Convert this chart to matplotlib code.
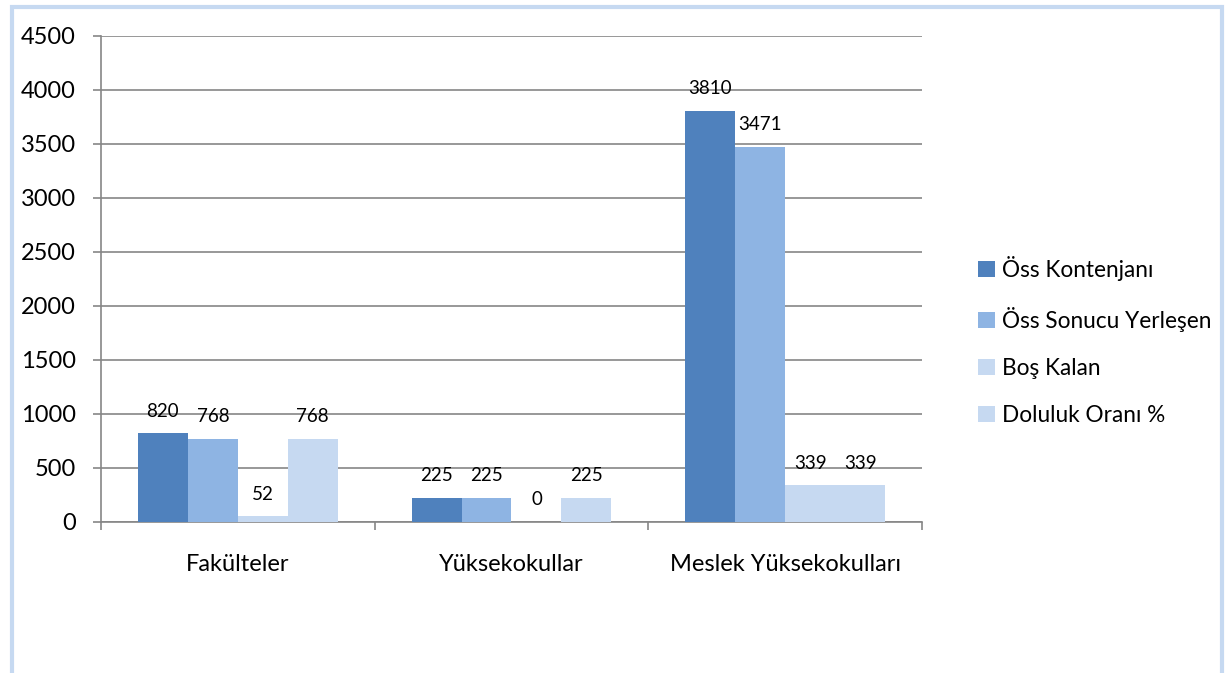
import matplotlib
matplotlib.use("Agg")
import matplotlib.pyplot as plt
import numpy as np
from matplotlib.patches import Rectangle

categories = ["Fakülteler", "Yüksekokullar", "Meslek Yüksekokulları"]
series_names = ["Öss Kontenjanı", "Öss Sonucu Yerleşen", "Boş Kalan", "Doluluk Oranı %"]
kontenjan = [820, 225, 3810]
yerlesen = [768, 225, 3471]
bos_kalan = [52, 0, 339]
doluluk = [768, 225, 339]
colors = ["#4F81BD", "#8EB4E3", "#C6D9F1", "#C6D9F1"]

plt.rcParams['font.family'] = ['Lato', 'DejaVu Sans']

fig = plt.figure(figsize=(12.31, 6.73), dpi=100)
ax = fig.add_axes([101/1231, 1-522/673, (922-101)/1231, (522-36)/673])

x = np.arange(len(categories))
w = 50/274
all_series = [kontenjan, yerlesen, bos_kalan, doluluk]
for i, (vals, name, c) in enumerate(zip(all_series, series_names, colors)):
    pos = x + (i - 1.5) * w
    ax.bar(pos, vals, width=w, color=c, label=name, zorder=3)
    for xp, v in zip(pos, vals):
        ax.annotate(str(v), (xp, v), xytext=(0, 16), textcoords="offset points",
                    ha="center", va="center", fontsize=13.5, color="black", zorder=4)

ax.set_xlim(-0.5, 2.5)
ax.set_ylim(0, 4500)
ax.set_yticks(np.arange(0, 4501, 500))
ax.yaxis.grid(True, color="#868686", linewidth=1.2, zorder=0)
ax.set_axisbelow(True)
ax.set_xticks([-0.5, 0.5, 1.5, 2.5])
ax.set_xticklabels([])
ax.set_xticks(x, minor=True)
ax.set_xticklabels(categories, minor=True)
ax.tick_params(axis="x", which="minor", length=0, pad=23, labelsize=17)
ax.tick_params(axis="x", which="major", length=6, color="#868686", width=1.2, direction="out")
ax.tick_params(axis="y", length=6, color="#868686", width=1.2, pad=12, labelsize=17)
for s in ["top", "right"]:
    ax.spines[s].set_visible(False)
for s in ["left", "bottom"]:
    ax.spines[s].set_color("#868686")
    ax.spines[s].set_linewidth(1.2)

handles, labels = ax.get_legend_handles_labels()
fig.legend(handles, labels, loc="center left", bbox_to_anchor=(969/1231, 1-341/673),
           frameon=False, fontsize=16.3, handlelength=0.75, handleheight=0.75,
           handletextpad=0.3, labelspacing=1.15, borderaxespad=0)

fig.patches.append(Rectangle((11.5/1231, -0.1), (1222-11.5)/1231, 1.1 - 7.5/673,
                             transform=fig.transFigure, fill=False,
                             edgecolor="#C6D9F1", linewidth=3, clip_on=False))

fig.savefig("out.png", dpi=100)
